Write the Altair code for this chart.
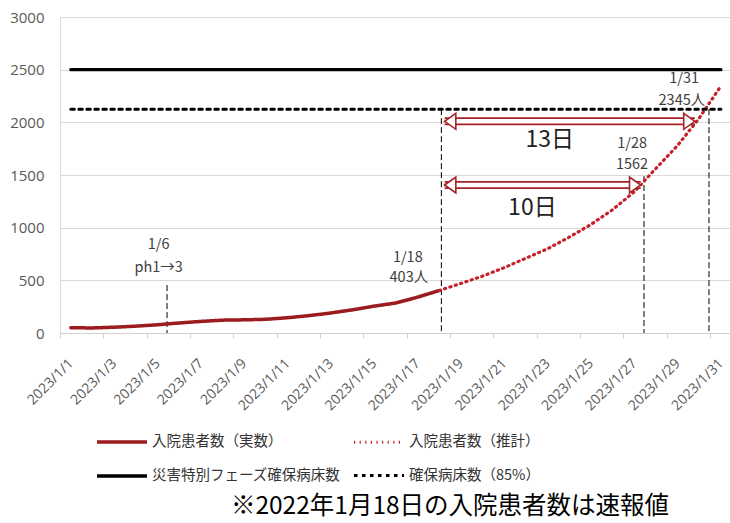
import altair as alt
import pandas as pd

# ---- data ----
days_actual = list(range(1, 19))
actual = [50, 48, 55, 65, 78, 95, 110, 122, 125, 130, 145, 165, 190, 220, 255, 285, 340, 403]
days_forecast = list(range(18, 32))
forecast = [403, 470, 540, 620, 710, 800, 910, 1030, 1170, 1340, 1562, 1780, 2040, 2345]
cap_days = [1, 31]
cap_full = [2500, 2500]
cap_85 = [2125, 2125]

series_names = ["入院患者数（実数）", "入院患者数（推計）", "災害特別フェーズ確保病床数", "確保病床数（85%）"]
# legend order (fills column by column)
legend_order = [series_names[0], series_names[2], series_names[1], series_names[3]]

vline_days = [5.44, 18.1, 27.45, 30.45]
vline_tops = [455, 2125, 1490, 2125]

arrow_start = [18.25, 18.25]
arrow_end = [29.8, 27.3]
arrow_value = [2010, 1405]

ann_days = [5.05, 5.05, 16.55, 16.6, 26.9, 26.9, 29.3, 29.2]
ann_values = [835, 620, 715, 520, 1795, 1595, 2410, 2200]
ann_texts = ["1/6", "ph1→3", "1/18", "403人", "1/28", "1562", "1/31", "2345人"]

big_days = [23.1, 22.3]
big_values = [1830, 1185]
big_texts = ["13日", "10日"]

footnote = "※2022年1月18日の入院患者数は速報値"

# ---- tables ----
rows = []
for d, v in zip(days_actual, actual):
    rows.append({"series": series_names[0], "day": d, "value": v})
for d, v in zip(days_forecast, forecast):
    rows.append({"series": series_names[1], "day": d, "value": v})
for d, v in zip(cap_days, cap_full):
    rows.append({"series": series_names[2], "day": d, "value": v})
for d, v in zip(cap_days, cap_85):
    rows.append({"series": series_names[3], "day": d, "value": v})
lines_df = pd.DataFrame(rows)

vl_df = pd.DataFrame({"day": vline_days, "top": vline_tops})
ar_df = pd.DataFrame({"start": arrow_start, "end": arrow_end, "value": arrow_value})
ann_df = pd.DataFrame({"day": ann_days, "value": ann_values, "text": ann_texts})
big_df = pd.DataFrame({"day": big_days, "value": big_values, "text": big_texts})

JP = "Noto Sans CJK JP"
RED = "#a52328"

colors = {series_names[0]: "#9b1b1f", series_names[1]: "#c4212b",
          series_names[2]: "#000000", series_names[3]: "#000000"}
dashes = {series_names[0]: [1, 0], series_names[1]: [1.2, 4.4],
          series_names[2]: [1, 0], series_names[3]: [3.5, 4.5]}
widths = {series_names[0]: 3.5, series_names[1]: 3.2,
          series_names[2]: 3, series_names[3]: 1.6}

xscale = alt.Scale(domain=[0.5, 31.42], nice=False, zero=False)
yscale = alt.Scale(domain=[0, 3000], nice=False)

PXDAY = 670 / 30.92
xaxis = alt.Axis(
    values=list(range(1, 32, 2)),
    labelExpr="'2023/1/' + datum.value",
    labelAngle=-45, labelAlign="right", labelBaseline="middle",
    labelFont="Open Sans", labelFontSize=14, labelColor="#595959",
    labelPadding=23, tickSize=5, tickColor="#d0d0d0",
    tickOffset=-PXDAY / 2, labelOffset=PXDAY / 2,
    domainColor="#d0d0d0", grid=False, title=None, labelOverlap=False,
)
yaxis = alt.Axis(
    values=[0, 500, 1000, 1500, 2000, 2500, 3000], format="d",
    labelFont="Open Sans", labelFontSize=15, labelColor="#595959",
    labelPadding=16, ticks=False, domain=False, grid=True,
    gridColor="#d9d9d9", gridWidth=1.2, title=None,
)

leg = alt.Legend(
    orient="none", legendX=35, legendY=398, columns=2, title=None,
    symbolType="stroke", symbolSize=2500, labelFont=JP, labelFontSize=14.5,
    labelColor="#333333", labelLimit=400, columnPadding=6, rowPadding=-4,
    labelOffset=3,
)

lines = alt.Chart(lines_df).mark_line(strokeCap="round").encode(
    x=alt.X("day:Q", scale=xscale, axis=xaxis),
    y=alt.Y("value:Q", scale=yscale, axis=yaxis),
    color=alt.Color("series:N", scale=alt.Scale(domain=legend_order,
                    range=[colors[s] for s in legend_order]), legend=leg),
    strokeDash=alt.StrokeDash("series:N", scale=alt.Scale(domain=legend_order,
                    range=[dashes[s] for s in legend_order]), legend=leg),
    strokeWidth=alt.StrokeWidth("series:N", scale=alt.Scale(domain=legend_order,
                    range=[widths[s] for s in legend_order]), legend=leg),
    detail="series:N",
)

vlines = alt.Chart(vl_df).mark_rule(color="#000000", strokeWidth=1, strokeDash=[6, 3]).encode(
    x="day:Q", y="top:Q", y2=alt.datum(0)
)

arrow_outer = alt.Chart(ar_df).mark_rule(color=RED, strokeWidth=8).encode(
    x="start:Q", x2="end:Q", y="value:Q"
)
arrow_inner = alt.Chart(ar_df).mark_rule(color="#ffffff", strokeWidth=4.5).encode(
    x="start:Q", x2="end:Q", y="value:Q"
)
head_l = alt.Chart(ar_df).mark_point(
    shape="M0,0L1.4,-1L1.4,1Z", size=256, filled=True, fill="#ffffff",
    stroke=RED, strokeWidth=1.6, opacity=1
).encode(x="start:Q", y="value:Q")
head_r = alt.Chart(ar_df).mark_point(
    shape="M0,0L-1.4,-1L-1.4,1Z", size=256, filled=True, fill="#ffffff",
    stroke=RED, strokeWidth=1.6, opacity=1
).encode(x="end:Q", y="value:Q")

ann = alt.Chart(ann_df).mark_text(font=JP, fontSize=14.5, color="#404040").encode(
    x="day:Q", y="value:Q", text="text:N"
)
big = alt.Chart(big_df).mark_text(font=JP, fontSize=23, color="#222222").encode(
    x="day:Q", y="value:Q", text="text:N"
)

foot = alt.Chart(pd.DataFrame({"t": [footnote]})).mark_text(
    font=JP, fontSize=24.5, color="#000000"
).encode(x=alt.value(390), y=alt.value(490), text="t:N")

chart = alt.layer(
    vlines, lines, arrow_outer, arrow_inner, head_l, head_r, ann, big, foot
).properties(
    width=670, height=316,
    autosize=alt.AutoSizeParams(type="none"),
    padding={"left": 60, "top": 17, "right": 0, "bottom": 190},
).configure_view(stroke=None).configure(background="#ffffff")

chart.save("out.html", embed_options={"renderer": "svg", "actions": False})
